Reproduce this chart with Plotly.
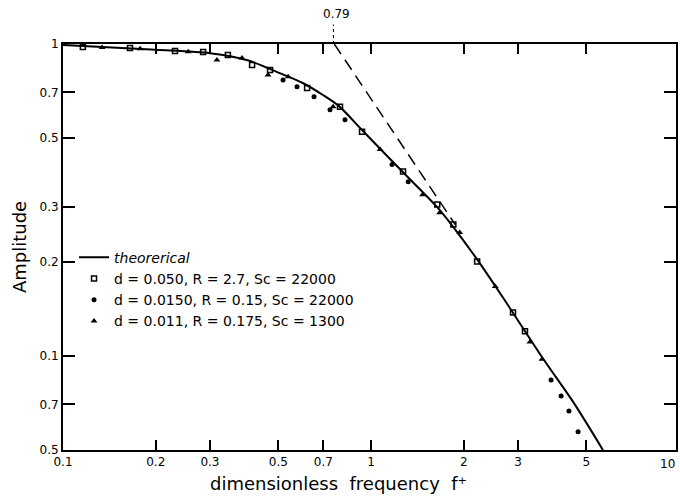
import math
import plotly.graph_objects as go

# theoretical curve
theory_f = [0.1, 0.2, 0.3, 0.4, 0.5, 0.6, 0.7, 0.79, 0.935, 1.27, 1.64, 1.85,
            2.21, 2.68, 3.62, 4.53, 5.66]
theory_a = [0.993, 0.958, 0.934, 0.885, 0.81, 0.75, 0.685, 0.63, 0.53, 0.388, 0.300, 0.259,
            0.204, 0.154, 0.098, 0.0713, 0.05]

# high-frequency asymptote starting at the 0.79 mark
asym_f = [0.76, 1.875]
asym_a = [1.0, 0.264]

# d=0.050, R=2.7, Sc=22000
sq_f = [0.116, 0.165, 0.231, 0.285, 0.343, 0.411, 0.470, 0.620, 0.793, 0.935,
        1.27, 1.64, 1.85, 2.21, 2.89, 3.16]
sq_a = [0.978, 0.971, 0.950, 0.943, 0.922, 0.857, 0.826, 0.723, 0.629, 0.523,
        0.390, 0.306, 0.264, 0.201, 0.138, 0.120]

# d=0.0150, R=0.15, Sc=22000
dot_f = [0.518, 0.575, 0.653, 0.736, 0.823, 1.17, 1.32, 3.84, 4.14, 4.39, 4.70]
dot_a = [0.767, 0.729, 0.677, 0.616, 0.572, 0.411, 0.362, 0.0838, 0.0745, 0.0667, 0.0572]

# d=0.011, R=0.175, Sc=1300
tri_f = [0.134, 0.178, 0.255, 0.316, 0.381, 0.463, 0.538, 0.753, 1.07, 1.47,
         1.67, 1.94, 2.53, 3.28, 3.59]
tri_a = [0.975, 0.965, 0.945, 0.889, 0.902, 0.796, 0.785, 0.629, 0.459, 0.329,
         0.288, 0.249, 0.167, 0.111, 0.0976]

x_ticks = [0.1, 0.2, 0.3, 0.5, 0.7, 1, 2, 3, 5]
x_labels = ['0.1', '0.2', '0.3', '0.5', '0.7', '1', '2', '3', '5']
y_ticks = [0.05, 0.07, 0.1, 0.2, 0.3, 0.5, 0.7, 1]
y_labels = ['0.5', '0.7', '0.1', '0.2', '0.3', '0.5', '0.7', '1']

font = 'DejaVu Sans'

fig = go.Figure([
    go.Scatter(name='<i>theorerical</i>', x=theory_f, y=theory_a, mode='lines',
               line=dict(color='black', width=2, shape='spline', smoothing=0.8)),
    go.Scatter(x=asym_f, y=asym_a, mode='lines', showlegend=False,
               line=dict(color='black', width=1.5, dash='12px,7px')),
    go.Scatter(name='d = 0.050, R = 2.7, Sc = 22000', x=sq_f, y=sq_a, mode='markers',
               marker=dict(symbol='square-open', size=5, color='black',
                           line=dict(width=1.5, color='black'))),
    go.Scatter(name='d = 0.0150, R = 0.15, Sc = 22000', x=dot_f, y=dot_a, mode='markers',
               marker=dict(symbol='circle', size=5, color='black')),
    go.Scatter(name='d = 0.011, R = 0.175, Sc = 1300', x=tri_f, y=tri_a, mode='markers',
               marker=dict(symbol='triangle-up', size=6, color='black')),
])

# 0.79 marker above the frame
fig.add_shape(type='line', xref='x', yref='paper', x0=0.755, x1=0.755, y0=1.0, y1=1.048,
              line=dict(color='black', width=1, dash='dot'))
fig.add_annotation(text='0.79', xref='x', yref='paper', x=math.log10(0.775), y=1.052,
                   showarrow=False, yanchor='bottom', font=dict(family=font, size=12, color='black'))
# the "10" label sits against the right edge
fig.add_annotation(text='10', xref='paper', yref='paper', x=1.002, xanchor='right', y=0, yshift=-5,
                   showarrow=False, yanchor='top', font=dict(family=font, size=12, color='black'))
fig.add_annotation(text='dimensionless  frequency  f⁺', xref='paper', yref='paper',
                   x=0.449, y=0, yshift=-33, showarrow=False, yanchor='middle',
                   font=dict(family=font, size=18, color='black'))

fig.update_layout(
    width=680, height=501,
    margin=dict(l=63, r=4, t=44, b=51),
    paper_bgcolor='white', plot_bgcolor='white',
    font=dict(family=font, color='black'),
    legend=dict(x=0.018, y=0.513, xanchor='left', yanchor='top',
                bgcolor='rgba(0,0,0,0)', font=dict(size=14, family=font),
                tracegroupgap=0),
)
fig.update_xaxes(type='log', range=[-1, 0.99], tickvals=x_ticks, ticktext=x_labels,
                 ticks='inside', ticklen=10, tickwidth=1.5, tickcolor='black',
                 showline=True, linecolor='black', linewidth=2, mirror='ticks',
                 showgrid=False, zeroline=False, automargin=False,
                 tickfont=dict(size=12))
fig.update_yaxes(type='log', range=[-1.30103, 0], tickvals=y_ticks, ticktext=y_labels,
                 ticks='inside', ticklen=12, tickwidth=1.5, tickcolor='black',
                 showline=True, linecolor='black', linewidth=2, mirror='ticks',
                 showgrid=False, zeroline=False, automargin=False,
                 tickfont=dict(size=12),
                 title=dict(text='Amplitude', font=dict(size=18), standoff=8))

# drop the page's default body margin so the figure sits at the window corner
fig.write_html('out.html', config={'displayModeBar': False},
               post_script="document.body.style.margin='0';")
